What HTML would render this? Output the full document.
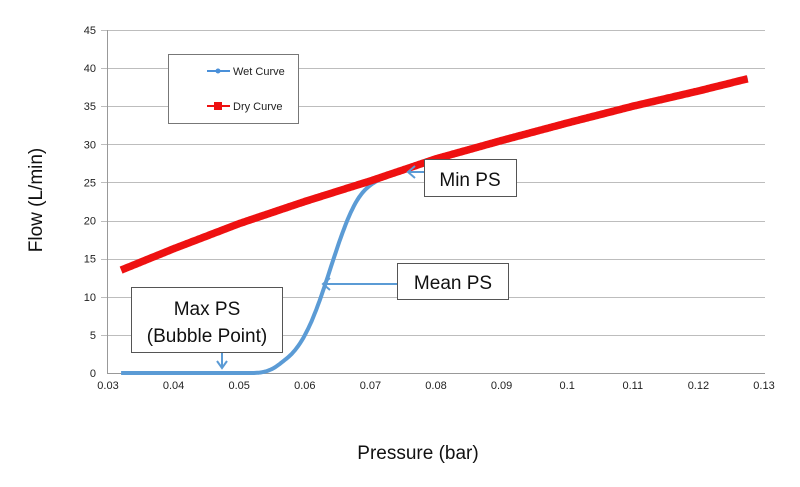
<!DOCTYPE html>
<html><head><meta charset="utf-8"><style>
html,body{margin:0;padding:0;background:#fff;}
svg{display:block;font-family:"Liberation Sans",sans-serif;}
</style></head><body>
<svg id="s" width="800" height="487" viewBox="0 0 800 487" xmlns="http://www.w3.org/2000/svg">
<g id="grid" stroke="#bdbdbd" stroke-width="1"></g>
<line x1="107.5" y1="30" x2="107.5" y2="373" stroke="#999"/>
<line x1="107" y1="373.5" x2="765" y2="373.5" stroke="#999"/>
<g id="lbl" font-size="11" fill="#222"></g>
<polyline id="wet" fill="none" stroke="#5b9bd5" stroke-width="4" stroke-linejoin="round"/>
<polyline id="dry" fill="none" stroke="#ee1111" stroke-width="7.5" stroke-linejoin="round"/>
<!-- legend -->
<rect x="168.5" y="54.5" width="130" height="69" fill="#fff" stroke="#777"/>
<line x1="207" y1="71" x2="230" y2="71" stroke="#4a90d9" stroke-width="2"/>
<circle cx="218" cy="71" r="2.5" fill="#4a90d9"/>
<text x="233" y="75" font-size="11" fill="#222">Wet Curve</text>
<line x1="207" y1="106" x2="230" y2="106" stroke="#ee1111" stroke-width="2"/>
<rect x="214" y="102" width="8" height="8" fill="#ee1111"/>
<text x="233" y="110" font-size="11" fill="#222">Dry Curve</text>
<!-- annotations -->
<rect x="424.5" y="159.5" width="92" height="37" fill="#fff" stroke="#555"/>
<text x="470" y="186" font-size="19" text-anchor="middle" fill="#111">Min PS</text>
<line x1="424" y1="172" x2="409" y2="172" stroke="#5b9bd5" stroke-width="2"/>
<path d="M415 166 L408 172 L415 178" fill="none" stroke="#5b9bd5" stroke-width="2"/>
<rect x="397.5" y="263.5" width="111" height="36" fill="#fff" stroke="#555"/>
<text x="453" y="289" font-size="19" text-anchor="middle" fill="#111">Mean PS</text>
<line x1="397" y1="284" x2="324" y2="284" stroke="#5b9bd5" stroke-width="2"/>
<path d="M330 278 L323 284 L330 290" fill="none" stroke="#5b9bd5" stroke-width="2"/>
<rect x="131.5" y="287.5" width="151" height="65" fill="#fff" stroke="#555"/>
<text x="207" y="315" font-size="19" text-anchor="middle" fill="#111">Max PS</text>
<text x="207" y="342" font-size="19" text-anchor="middle" fill="#111">(Bubble Point)</text>
<line x1="222" y1="353" x2="222" y2="367" stroke="#5b9bd5" stroke-width="2"/>
<path d="M217 361 L222 368 L227 361" fill="none" stroke="#5b9bd5" stroke-width="2"/>
<text x="418" y="459" font-size="19" text-anchor="middle" fill="#111">Pressure (bar)</text>
<text transform="translate(42,200) rotate(-90)" font-size="19" text-anchor="middle" fill="#111">Flow (L/min)</text>
</svg>
<script>
var X=function(v){return 108+(v-0.03)*6560;},Y=function(v){return 373-v*7.622;};
var g=document.getElementById('grid'),l=document.getElementById('lbl'),ns='http://www.w3.org/2000/svg';
for(var i=0;i<=9;i++){var y=Y(i*5);if(i>0){var ln=document.createElementNS(ns,'line');ln.setAttribute('x1',101);ln.setAttribute('x2',765);ln.setAttribute('y1',Math.round(y)+0.5);ln.setAttribute('y2',Math.round(y)+0.5);g.appendChild(ln);}
var t=document.createElementNS(ns,'text');t.setAttribute('x',96);t.setAttribute('y',y+4);t.setAttribute('text-anchor','end');t.textContent=i*5;l.appendChild(t);}
var xs=['0.03','0.04','0.05','0.06','0.07','0.08','0.09','0.1','0.11','0.12','0.13'];
for(var i=0;i<xs.length;i++){var t=document.createElementNS(ns,'text');t.setAttribute('x',X(0.03+i*0.01));t.setAttribute('y',389);t.setAttribute('text-anchor','middle');t.textContent=xs[i];l.appendChild(t);}
var P=[[0.032,13.5],[0.04,16.3],[0.05,19.6],[0.06,22.5],[0.07,25.2],[0.08,28.1],[0.09,30.5],[0.1,32.8],[0.11,35],[0.12,37],[0.1275,38.6]];
function dry(x){for(var i=0;i<P.length-1;i++){if(x<=P[i+1][0]){var f=(x-P[i][0])/(P[i+1][0]-P[i][0]);return P[i][1]+f*(P[i+1][1]-P[i][1]);}}return 38.6;}
var d=[],w=[];
for(var x=0.032;x<=0.12751;x+=0.00025){var dv=dry(x);d.push(X(x).toFixed(1)+','+Y(dv).toFixed(1));
var L=1.1/(1+Math.exp(-(x-0.0636)/0.0026));
var wv=dv*L;var t=dv+0.2;
var kk=1.2;wv=-kk*Math.log(Math.exp(-wv/kk)+Math.exp(-t/kk));
var ramp=Math.min(1,Math.max(0,(x-0.052)/0.005));ramp=ramp*ramp*(3-2*ramp);
wv=Math.max(0,wv)*ramp;
w.push(X(x).toFixed(1)+','+Y(wv).toFixed(1));}
document.getElementById('dry').setAttribute('points',d.join(' '));
document.getElementById('wet').setAttribute('points',w.join(' '));
</script>
</body></html>
